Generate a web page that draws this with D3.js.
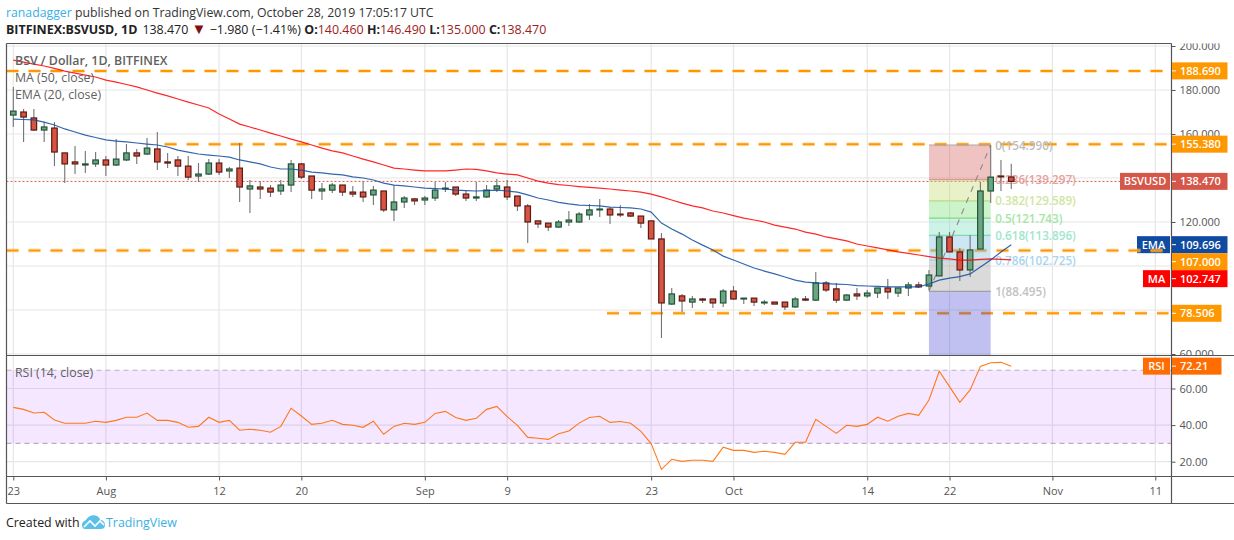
<!DOCTYPE html>
<html>
<head>
<meta charset="utf-8">
<script src="https://cdn.jsdelivr.net/npm/d3@7/dist/d3.min.js"></script>
<style>
html,body{margin:0;padding:0;background:#fff;overflow:hidden}
svg{display:block}
text{font-family:"Open Sans",sans-serif}
</style>
</head>
<body>
<svg id="c" width="1234" height="540"></svg>
<script>
const startDate = "2019-07-23";
const axisEndDate = "2019-11-11";

const opens = [168.6,170,167.3,161.8,162.7,151.4,147.3,145.9,146.4,148.2,145.9,148.2,151.4,150.9,153.2,147.3,148.2,145.4,140.9,141.8,146.8,143.2,144.5,135,135.9,135.4,134.1,136.8,146.4,140.9,134.1,134.5,136.8,133.6,133.6,132.3,134.1,125.5,129.1,130.5,130,130.9,135,135.9,132.7,130.9,131.4,135,135.9,131.8,127.3,120.5,119.5,117.7,120,120,123.2,125.5,125.9,123.6,124.1,122.7,120.5,112.3,82.7,86.4,83.6,85,85,83.2,88.6,85,85.4,83.2,83.6,83.6,81.4,85,84.5,92.3,89.6,84.5,87.3,86.4,87.7,90,87.7,90,91.4,90.9,95.5,113.2,106.4,98.2,107.7,134.1,140.9,140.46];
const highs = [181.4,171.4,171.4,165.4,165.4,151.4,154.5,152.3,151.8,150,157.7,155.4,153.2,158.2,160.9,151.4,150,150,146.8,148.6,148.6,145,155.9,139.1,138.6,136.8,139.1,148.2,146.8,140.9,137.7,137.7,136.8,136.4,138.6,136.4,134.1,136.8,131.8,130.9,131.8,138.2,138.2,135.9,134.1,138.2,136.8,139.5,139.1,131.8,128.2,120.5,119.5,120.9,125,124.5,128.2,130.5,126.8,127.7,124.5,122.7,120.5,115,90,87.3,86.4,85.4,85,89.5,90.9,85.4,85.4,84.5,83.6,83.6,85.9,86.4,97.3,93.2,92.3,87.3,90,89.1,90,94.1,90,92.7,92.7,98.2,115.5,115.5,108.2,114.1,138.2,154.99,148.2,146.49];
const lows = [163.2,156.4,161.4,156.4,145.4,137.7,141.8,142.3,145,140.9,145.4,147.7,146.4,150.4,143.6,144.5,140.9,139.1,138.2,141.4,141.4,140,129.1,124.1,130.5,131.4,132.3,133.6,139.5,130.5,130,133.2,131.8,131.4,129.1,127.7,124.5,120.5,126.4,127.7,127.7,129.6,133.6,131.8,129.6,129.6,130.9,133.6,130,125,110.5,117.3,115.9,117.3,118.2,119.5,120.9,122.3,119.1,122.3,122.3,117.3,112.3,67.3,82.3,79.1,80.9,83.2,80.9,81.4,84.5,82.7,81.8,82.3,82.7,80,80.9,84.1,84.1,88.2,83.2,84.1,84.5,85.4,85.4,85,85.9,86.4,90,89.1,95.5,106.4,93.2,95,107.7,128.6,134.1,135];
const closes = [170.4,167.7,161.8,163.2,151.8,146.4,146.4,146.4,148.2,145.9,148.6,151.4,150,153.6,147.3,146.8,145.4,140.4,141.8,146.8,142.7,144.1,135.9,136.4,135,133.6,136.8,146.4,140.4,134.5,135,136.8,133.6,132.7,131.4,134.5,125.5,129.1,130.9,129.6,130.9,134.5,135.4,132.7,130.9,131.4,134.5,136.4,131.4,127.3,120,119.1,117.7,120,120.9,123.6,125.5,125.9,123.2,123.2,122.7,119.5,112.3,83.2,87.3,84.1,85,84.5,83.2,88.6,85,85.4,83.6,83.6,82.7,81.4,85,84.5,92.3,89.1,84.5,86.8,86.4,87.7,90,88.2,90,91.4,90.5,95.9,113.2,106.4,98.2,107.3,134.1,140.4,140.5,138.47];
const ma50 = [193.6,192.7,191.8,190.9,189.8,188.6,187.7,186.8,185.9,184.5,183.6,182.5,181.4,180,178.6,177.3,175.9,174.5,173.2,171.8,169.1,166.8,164.5,163.2,161.8,160.4,159.1,157.7,156.4,155,153.6,152.3,151.4,150,148.6,147.3,145.9,144.5,144.1,143.6,143.2,143.2,143.2,143.6,144.1,143.9,143.2,142.3,141.8,141.4,140,138.6,137.7,137,136.6,136.1,135.7,135.4,135,134.5,134.1,133.6,132.7,131.4,130,128.6,127.3,126.4,125,124.1,122.9,121.8,120.9,120,118.6,117.7,116.8,115.4,114.5,113.2,112.3,111.4,110,109.1,108.2,107.3,106.4,105.7,105,104.3,103.6,103.2,102.7,102.7,103,103.2,103,102.75];
const ema20 = [166.8,166.6,166.4,165.4,164.1,162.3,160.9,159.5,158.4,157.3,156.8,156.4,155.9,155.4,155,154.1,152.7,151.8,150.9,150.4,150,149.5,148.2,147.3,146.4,145,144.1,144.1,143.6,142.7,142.3,141.8,141.4,140.5,140,139.1,137.7,136.8,136.4,135.9,135.4,135.2,135,134.5,134.3,134.1,134.3,134.5,134.1,133.6,132.3,130.9,130,128.9,128.2,127.7,127.5,127.3,126.8,126.6,126.4,125.9,124.5,119.5,116.8,114.5,111.8,109.5,107.3,104.5,102.7,100.9,99.1,97.7,96.4,95,93.6,92.7,92.3,92,91.8,91.6,91.1,90.9,90.7,90.5,90.5,90.5,90.5,91.8,93.6,94.5,95.2,96.4,99.6,102.7,106.4,109.7];
const rsi14 = [49.7,48.6,46.6,47,42.8,41,41,41,42.1,41.5,42.6,44.3,44.3,46.6,42.6,42.6,41.5,38.8,39.3,44.3,41.5,42.6,37.2,37.7,37.2,36.1,39.3,49.2,45,40.4,41,42.6,40.4,39.9,38.8,42.1,35,39.3,41,40.4,41.5,46.4,47.5,44.2,42.6,43.7,48.6,50.2,44.6,39.9,33.3,32.8,32.2,35.3,36.8,41.1,44.2,44.8,41.5,42,41,36.6,29.9,15.8,21.3,20.2,20.8,20.8,20.2,27.9,26.2,26.2,25.1,25.7,25.1,24,30.6,30.6,43.2,39.3,35.5,39.9,39.3,40.4,44.3,42.1,44.8,46.4,45.3,53.7,69.4,61,52.4,59.2,72.1,74.1,74.3,72.21];

const priceTicks = [200,180,160,140,120,100,80,60];
const labelledPriceTicks = [200,180,160,120,60];
const rsiTicks = [60,40,20];
const rsiBand = [70,30];
const timeTickDates = ["2019-07-23","2019-08-01","2019-08-12","2019-08-20","2019-09-01","2019-09-09","2019-09-23","2019-10-01","2019-10-14","2019-10-22","2019-11-01","2019-11-11"];
const timeTickLabels = ["23","Aug","12","20","Sep","9","23","Oct","14","22","Nov","11"];

const levelValues = [188.69,155.38,107,78.506];
const levelLabels = ["188.690","155.380","107.000","78.506"];
const levelStarts = ["2019-07-22","2019-08-07","2019-07-22","2019-09-19"];

const fibRatios = ["0","0.236","0.382","0.5","0.618","0.786","1"];
const fibValues = [154.99,139.297,129.589,121.743,113.896,102.725,88.495];
const fibStartDate = "2019-10-20", fibEndDate = "2019-10-26";

const lastPrice = 138.47, lastEma = 109.696, lastMa = 102.747, lastRsi = 72.21;

/* ---------- layout ---------- */
const svg = d3.select("#c");
const L = 6.5, R = 1171.5, T = 43.5, M = 355.5, B = 476.5, F = 503.5;
const parse = d3.utcParse("%Y-%m-%d");
const x = d3.scaleUtc().domain([parse(startDate), parse(axisEndDate)]).range([13.3, 1155.3]);
const y = d3.scaleLinear().domain([200, 60]).range([46, 354]);
const ry = d3.scaleLinear().domain([60, 20]).range([388.5, 461.7]);
const days = opens.map((_, i) => d3.utcDay.offset(parse(startDate), i));

const defs = svg.append("defs");
defs.append("clipPath").attr("id","pane").append("rect").attr("x",L).attr("y",T).attr("width",R-L).attr("height",M-T);
defs.append("clipPath").attr("id","paxis").append("rect").attr("x",R).attr("y",T).attr("width",60).attr("height",M-T);

svg.append("rect").attr("width",1234).attr("height",540).attr("fill","#fff");

/* grid */
const grid = svg.append("g").attr("stroke","#e6e6e6").attr("stroke-width",1.2);
grid.selectAll(".gy").data(priceTicks).join("line")
  .attr("x1",L).attr("x2",R).attr("y1",d=>y(d)).attr("y2",d=>y(d));
grid.selectAll(".gr").data(rsiTicks).join("line")
  .attr("x1",L).attr("x2",R).attr("y1",d=>ry(d)).attr("y2",d=>ry(d));
grid.selectAll(".gx").data(timeTickDates).join("line")
  .attr("x1",d=>x(parse(d))).attr("x2",d=>x(parse(d))).attr("y1",T).attr("y2",B);

/* RSI band */
svg.append("rect").attr("x",L).attr("width",R-L).attr("y",ry(rsiBand[0])).attr("height",ry(rsiBand[1])-ry(rsiBand[0]))
  .attr("fill","#9915ff").attr("fill-opacity",0.1);
svg.append("g").selectAll("line").data(rsiBand).join("line")
  .attr("x1",L).attr("x2",R).attr("y1",d=>ry(d)).attr("y2",d=>ry(d))
  .attr("stroke","#b9aec2").attr("stroke-width",1.1).attr("stroke-dasharray","5,4");

/* pane-side labels */
function sideLabel(txt, yc, x0, fill){
  svg.append("rect").attr("x",x0).attr("y",yc-8.5).attr("width",1170-x0).attr("height",17).attr("fill",fill);
  svg.append("text").attr("x",(x0+1170)/2).attr("y",yc+4).attr("text-anchor","middle")
    .attr("fill","#fff").attr("font-size",11).attr("font-weight",600).text(txt);
}

/* right-axis value stack: nudged downward so the boxes never overlap */
const boxes = [
  {t:levelLabels[0],v:levelValues[0],c:"#ff9800"},
  {t:levelLabels[1],v:levelValues[1],c:"#ff9800"},
  {t:lastPrice.toFixed(3),v:lastPrice,c:"#d5574a",side:"BSVUSD",sx:1120},
  {t:lastEma.toFixed(3),v:lastEma,c:"#0f4ba0",side:"EMA",sx:1137},
  {t:levelLabels[2],v:levelValues[2],c:"#ff9800"},
  {t:lastMa.toFixed(3),v:lastMa,c:"#ff0000",side:"MA",sx:1143},
  {t:levelLabels[3],v:levelValues[3],c:"#ff9800"}
];
let bottom = -Infinity;
boxes.forEach(b=>{ b.top = Math.max(y(b.v)-8.5,bottom); bottom = b.top+17; });
boxes.filter(b=>b.side).forEach(b=>sideLabel(b.side,b.top+8.5,b.sx,b.c));
sideLabel("RSI", ry(lastRsi), 1143, "#ff6d00");

/* last price line */
svg.append("line").attr("x1",L).attr("x2",1120).attr("y1",y(lastPrice)).attr("y2",y(lastPrice))
  .attr("stroke","#d5574a").attr("stroke-width",1).attr("stroke-dasharray","2,2");

/* horizontal levels */
const lv = svg.append("g").attr("clip-path","url(#pane)");
levelValues.forEach((v,i)=>{
  const x1 = Math.max(L, x(parse(levelStarts[i])) - 3);
  [[4,"#ffcc80",0.55],[2,"#ff9800",1]].forEach(([w,c,o])=>{
    lv.append("line").attr("x1",x1).attr("x2",R-3).attr("y1",y(v)).attr("y2",y(v))
      .attr("stroke",c).attr("stroke-width",w).attr("stroke-opacity",o).attr("stroke-dasharray","12,10");
  });
});

/* Fibonacci */
const fx0 = x(parse(fibStartDate)), fx1 = x(parse(fibEndDate));
const fibFills = ["#d65a5a","#c6dd72","#7fe07a","#7fe0be","#7fc0e0","#a8a8a8"];
const fibLines = ["#a8a8a8","#dc9a8c","#b4dc82","#80d880","#80d8b8","#8fc8e8","#a0a0a0"];
const fibText  = ["#bdbdbd","#e6a3a0","#cfe6a0","#a4e6a4","#a0e6cc","#a9d5ee","#c2c2c2"];
const fg = svg.append("g");
fibFills.forEach((c,i)=>{
  fg.append("rect").attr("x",fx0).attr("width",fx1-fx0)
    .attr("y",y(fibValues[i])).attr("height",y(fibValues[i+1])-y(fibValues[i]))
    .attr("fill",c).attr("fill-opacity",i===0?0.36:i===5?0.42:0.4);
});
fg.append("rect").attr("x",fx0).attr("width",fx1-fx0).attr("y",y(fibValues[6])).attr("height",M-y(fibValues[6]))
  .attr("fill","#3a3fcf").attr("fill-opacity",0.32);
fibValues.forEach((v,i)=>{
  fg.append("line").attr("x1",fx0).attr("x2",fx1).attr("y1",y(v)).attr("y2",y(v))
    .attr("stroke",fibLines[i]).attr("stroke-width",1.2);
  fg.append("text").attr("x",fx1+4.5).attr("y",y(v)+4.5).attr("fill",fibText[i])
    .attr("font-size",11.7).attr("font-weight",600).text(`${fibRatios[i]}(${v.toFixed(3)})`);
});
fg.append("line").attr("x1",fx0).attr("y1",y(fibValues[6])).attr("x2",fx1).attr("y2",y(fibValues[0]))
  .attr("stroke","#888").attr("stroke-width",1.1).attr("stroke-dasharray","6,6");

/* candles */
const upFill="#6ba583", dnFill="#d75442", upEdge="#225437", dnEdge="#5b1a13", wick="#737375";
const cg = svg.append("g").attr("clip-path","url(#pane)");
const cw = 5.5;
const idx = d3.range(opens.length);
cg.selectAll(".w").data(idx).join("line")
  .attr("x1",i=>x(days[i])).attr("x2",i=>x(days[i]))
  .attr("y1",i=>y(highs[i])).attr("y2",i=>y(lows[i]))
  .attr("stroke",wick).attr("stroke-width",1.1);
cg.selectAll(".b").data(idx).join("rect")
  .attr("x",i=>x(days[i])-cw/2).attr("width",cw)
  .attr("y",i=>Math.min(y(opens[i]),y(closes[i])))
  .attr("height",i=>Math.max(0.6,Math.abs(y(opens[i])-y(closes[i]))))
  .attr("fill",i=>closes[i]>=opens[i]?upFill:dnFill)
  .attr("stroke",i=>closes[i]>=opens[i]?upEdge:dnEdge)
  .attr("stroke-width",1.2);

/* MA / EMA */
const priceLine = d3.line().x((d,i)=>x(days[i])).y(d=>y(d));
const lg = svg.append("g").attr("clip-path","url(#pane)").attr("fill","none");
lg.append("path").attr("d",priceLine(ma50)).attr("stroke","#ff0000").attr("stroke-opacity",0.85).attr("stroke-width",1.2);
lg.append("path").attr("d",priceLine(ema20)).attr("stroke","#0f4ba0").attr("stroke-opacity",0.85).attr("stroke-width",1.2);

/* RSI line */
const rLine = d3.line().x((d,i)=>x(days[i])).y(d=>ry(d));
svg.append("path").attr("d",rLine(rsi14)).attr("fill","none").attr("stroke","#ff6d00").attr("stroke-width",1.1).attr("stroke-opacity",0.9);

/* frame */
const frame = svg.append("g").attr("stroke","#555").attr("stroke-width",1.2);
[[L,T,R,T],[L,T,L,F],[R,T,R,F],[L,M,1234,M],[L,B,1234,B],[L,F,1234,F]].forEach(a=>{
  frame.append("line").attr("x1",a[0]).attr("y1",a[1]).attr("x2",a[2]).attr("y2",a[3]);
});

/* axes */
const axisCol="#555", axisFont=11;
function styleAxis(g){
  g.select(".domain").remove();
  g.selectAll("line").attr("stroke",axisCol);
  g.selectAll("text").attr("fill",axisCol).attr("font-size",axisFont).attr("font-family",'"Open Sans",sans-serif');
}
svg.append("g").attr("clip-path","url(#paxis)")
  .append("g").attr("transform",`translate(${R},0)`)
  .call(d3.axisRight(y).tickValues(labelledPriceTicks).tickSize(4).tickPadding(4).tickFormat(d3.format(".3f"))).call(styleAxis);
svg.append("g").attr("transform",`translate(${R},0)`)
  .call(d3.axisRight(ry).tickValues(rsiTicks).tickSize(4).tickPadding(4).tickFormat(d3.format(".2f"))).call(styleAxis);
svg.append("g").attr("transform",`translate(0,${B})`)
  .call(d3.axisBottom(x).tickValues(timeTickDates.map(parse)).tickSize(4).tickPadding(6.5).tickFormat((d,i)=>timeTickLabels[i])).call(styleAxis);

/* right-axis value labels */
function drawValueBox(t, top, c){
  const w = t.length>=7 ? 55.5 : 49.5;
  svg.append("rect").attr("x",R+.5).attr("y",top).attr("width",w).attr("height",17).attr("fill",c);
  svg.append("line").attr("x1",R+.5).attr("x2",R+4.5).attr("y1",top+8.5).attr("y2",top+8.5).attr("stroke","#fff");
  svg.append("text").attr("x",R+8.5).attr("y",top+12.5).attr("fill","#fff").attr("font-size",11).attr("font-weight",600).text(t);
}
boxes.forEach(b=>drawValueBox(b.t,b.top,b.c));
drawValueBox(lastRsi.toFixed(2), ry(lastRsi)-8.5, "#ff6d00");

/* pane legends */
[["BSV / Dollar, 1D, BITFINEX",65,600],["MA (50, close)",82,400],["EMA (20, close)",99,400],["RSI (14, close)",377,400]].forEach(([t,yy,w])=>{
  svg.append("text").attr("x",15).attr("y",yy).attr("fill","#5f5f5f").attr("font-size",12.35).attr("font-weight",w).text(t);
});

/* header */
const h1 = svg.append("text").attr("x",6).attr("y",17).attr("font-size",12.28).attr("fill","#333");
h1.append("tspan").attr("fill","#3bb0e4").text("ranadagger");
h1.append("tspan").text(" published on TradingView.com, October 28, 2019 17:05:17 UTC");
const h2 = svg.append("text").attr("x",6).attr("y",34).attr("font-size",12.45).attr("fill","#222");
const bold=(t)=>h2.append("tspan").attr("font-weight",700).text(t);
const red=(t)=>h2.append("tspan").attr("fill","#9c1c1c").text(t);
bold("BITFINEX:BSVUSD, 1D");
h2.append("tspan").attr("dx",5).text("138.470 ");
h2.append("tspan").attr("fill","#7f1010").attr("font-size",15).text("\u25BC");
h2.append("tspan").text(" \u22121.980 (\u22121.41%) ");
bold("O:");red("140.460 ");bold("H:");red("146.490 ");bold("L:");red("135.000 ");bold("C:");red("138.470");

/* footer */
svg.append("text").attr("x",6).attr("y",527).attr("font-size",12.4).attr("fill","#222").text("Created with");
svg.append("path").attr("fill","#5cc0e8")
  .attr("d","M82 525 C82 522 84 521 86 520 C88 516 93 514 97 516 C99 517 100 519 100 520 C103 520 105 522 105 525 C105 528 103 529 101 529 L85 529 C83 529 82 527 82 525 Z");
svg.append("path").attr("fill","none").attr("stroke","#fff").attr("stroke-width",1.6)
  .attr("d","M84 527 L90 521 L95 526 L100 521 L104 525");
svg.append("text").attr("x",106).attr("y",527).attr("font-size",12.4).attr("fill","#3bb0e4").text("TradingView");
</script>
</body>
</html>
